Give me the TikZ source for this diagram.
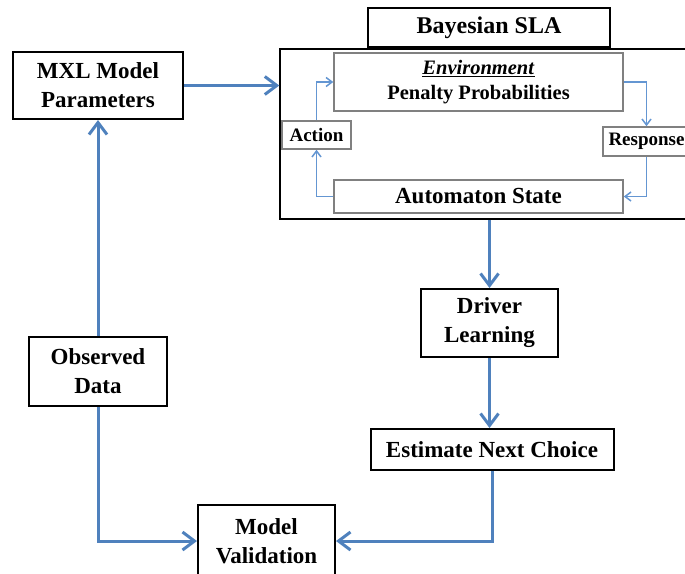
\documentclass[tikz,border=0pt]{standalone}
\usepackage{fontspec}
\setmainfont{Liberation Serif}
\usetikzlibrary{arrows.meta}
\definecolor{flowblue}{RGB}{79,129,189}
\definecolor{feedblue}{RGB}{100,150,210}
\definecolor{boxgray}{RGB}{128,128,128}

\begin{document}
\begin{tikzpicture}[
        x=1pt, y=-1pt,
        % Define styles for consistency
        block/.style={draw=black, line width=2pt, fill=white, align=center, inner sep=0pt,
            font=\bfseries\fontsize{23}{29}\selectfont},
        inner/.style={draw=boxgray, line width=1.5pt, fill=white, align=center, inner sep=0pt},
        tag/.style={inner, font=\bfseries\fontsize{19}{23}\selectfont, minimum height=28pt},
        flow/.style={draw=flowblue, line width=3pt, -{Straight Barb[length=12pt,width=18pt,line width=3pt]}},
        feedback/.style={draw=feedblue, line width=1.5pt, -{Straight Barb[length=6pt,width=9pt]}}
    ]
        \useasboundingbox (0,0) rectangle (685,573);

        % --- Coordinates ---
        \coordinate (c_mxl) at (98,85.5);
        \coordinate (c_title) at (489,27.5);
        \coordinate (c_sla) at (490,134);
        \coordinate (c_env) at (478.5,82);
        \coordinate (c_auto) at (478.5,196.5);
        \coordinate (c_action) at (316.5,135);
        \coordinate (c_resp) at (646.5,141.5);
        \coordinate (c_driver) at (489.5,323);
        \coordinate (c_est) at (492,449.5);
        \coordinate (c_obs) at (98,371.5);
        \coordinate (c_valid) at (266.5,541);

        % --- Draw Nodes ---
        % Bayesian SLA frame
        \node[draw=black, line width=1.5pt, minimum width=420pt, minimum height=170pt] (sla) at (c_sla) {};
        \node[block, minimum width=242pt, minimum height=39pt, font=\bfseries\fontsize{24}{29}\selectfont] (title) at (c_title) {Bayesian SLA};
        \node[inner, minimum width=289pt, minimum height=58pt, font=\bfseries\fontsize{20.5}{25}\selectfont] (env) at (c_env) {\underline{\textit{Environment}}\\Penalty Probabilities};
        \node[inner, minimum width=289pt, minimum height=33pt, font=\bfseries\fontsize{23}{28}\selectfont] (auto) at (c_auto) {Automaton State};
        \node[tag, minimum width=69pt] (action) at (c_action) {Action};
        \node[tag, minimum width=87pt, minimum height=29pt] (resp) at (c_resp) {Response};

        % Outer blocks
        \node[block, minimum width=170pt, minimum height=67pt] (mxl) at (c_mxl) {MXL Model\\Parameters};
        \node[block, minimum width=137pt, minimum height=68pt] (driver) at (c_driver) {Driver\\Learning};
        \node[block, minimum width=243pt, minimum height=41pt] (est) at (c_est) {Estimate Next Choice};
        \node[block, minimum width=138pt, minimum height=69pt] (obs) at (c_obs) {Observed\\Data};
        \node[block, minimum width=137pt, minimum height=72pt] (valid) at (c_valid) {Model\\Validation};

        % --- Draw Edges ---
        % Learning loop inside the SLA
        \draw[feedback] (env.east) -| (resp.north);
        \draw[feedback] (resp.south) |- (auto.east);
        \draw[feedback] (auto.west) -| (action.south);
        \draw[feedback] (action.north) |- (env.west);

        % Main flow
        \draw[flow] (mxl.east) -- (mxl.east -| sla.west);
        \draw[flow] (sla.south -| driver.north) -- (driver.north);
        \draw[flow] (driver.south) -- (driver.south |- est.north);
        \draw[flow] (est.south) |- (valid.east);
        \draw[flow] (obs.south) |- (valid.west);
        \draw[flow] (obs.north) -- (mxl.south);

    \end{tikzpicture}
\end{document}
